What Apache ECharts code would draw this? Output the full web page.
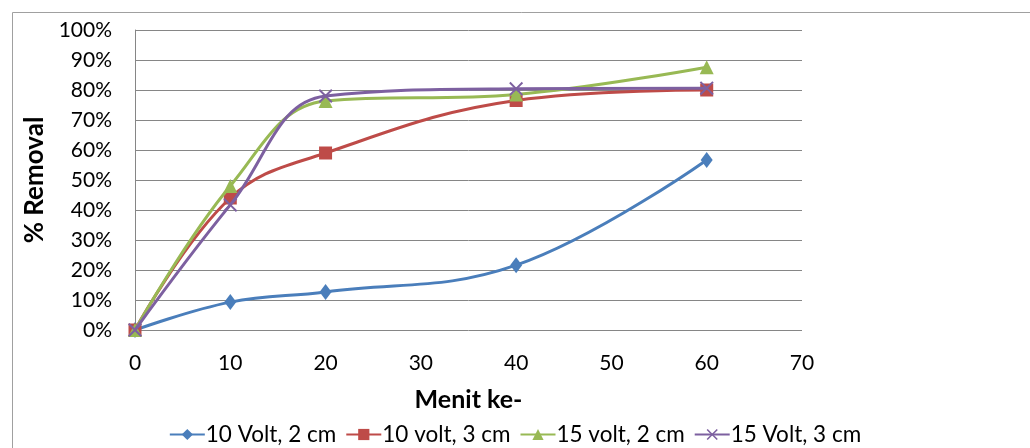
<!DOCTYPE html>
<html>
<head>
<meta charset="utf-8">
<script src="https://cdn.jsdelivr.net/npm/echarts@6/dist/echarts.min.js"></script>
<style>
html,body{margin:0;padding:0;background:#fff;}
#chart{width:1030px;height:448px;}
</style>
</head>
<body>
<div id="chart"></div>
<script>
const minutes = [0, 10, 20, 40, 60];
const seriesNames = ['10 Volt, 2 cm', '10 volt, 3 cm', '15 volt, 2 cm', '15 Volt, 3 cm'];
const v10_2cm = [0, 9.3, 12.7, 21.6, 56.7];
const v10_3cm = [0, 44, 59, 76.5, 80];
const v15_2cm = [0, 48, 76.3, 78.5, 87.6];
const v15_3cm = [0, 41.7, 78, 80.4, 80.6];
const yTicks = [0, 10, 20, 30, 40, 50, 60, 70, 80, 90, 100];

const colors = ['#4a7ebb', '#be4b48', '#98b954', '#7d60a0'];
const symbols = ['diamond', 'rect', 'triangle',
  'path://M0,1 L1,0 L5,4 L9,0 L10,1 L6,5 L10,9 L9,10 L5,6 L1,10 L0,9 L4,5 Z'];
const symbolSizes = [[12, 16], 13, 14, 14];
const allData = [v10_2cm, v10_3cm, v15_2cm, v15_3cm];
const font = 'Lato, "Noto Sans", sans-serif';

const chart = echarts.init(document.getElementById('chart'), null, {renderer: 'canvas'});
chart.setOption({
  animation: false,
  backgroundColor: '#fff',
  graphic: [{
    type: 'rect', left: 10, top: 10, silent: true,
    shape: {width: 1040, height: 460},
    style: {fill: 'none', stroke: '#a0a0a0', lineWidth: 1}
  }],
  grid: {left: 135, right: 228, top: 30, bottom: 118, containLabel: false},
  legend: {
    top: 418, left: 'center',
    itemWidth: 35, itemHeight: 14, itemGap: 9,
    textStyle: {fontFamily: font, fontSize: 22.5, color: '#000', padding: [0, 0, 0, -4]},
    data: seriesNames
  },
  xAxis: {
    type: 'value', min: 0, max: 70, interval: 10,
    name: 'Menit ke-', nameLocation: 'middle', nameGap: 57,
    nameTextStyle: {fontFamily: font, fontSize: 25, fontWeight: 'bold', color: '#000'},
    axisLine: {show: false},
    axisTick: {show: false},
    splitLine: {show: false},
    axisLabel: {fontFamily: font, fontSize: 21, color: '#000', margin: 23}
  },
  yAxis: {
    type: 'value', min: 0, max: 100, interval: 10,
    name: '% Removal', nameLocation: 'middle', nameGap: 86, nameRotate: 90,
    nameTextStyle: {fontFamily: font, fontSize: 26, fontWeight: 'bold', color: '#000'},
    axisLine: {show: true, lineStyle: {color: '#868686', width: 1}},
    axisTick: {show: false},
    splitLine: {show: true, lineStyle: {color: '#868686', width: 1}},
    axisLabel: {
      fontFamily: font, fontSize: 21, color: '#000', margin: 23,
      formatter: function (v) { return yTicks.indexOf(v) >= 0 ? v + '%' : ''; }
    }
  },
  series: allData.map(function (d, i) {
    return {
      name: seriesNames[i],
      type: 'line',
      smooth: 0.4,
      data: minutes.map(function (m, j) { return [m, d[j]]; }),
      symbol: symbols[i],
      symbolSize: symbolSizes[i],
      showAllSymbol: true,
      color: colors[i],
      lineStyle: {color: colors[i], width: 3},
      itemStyle: {color: colors[i]},
      z: 2 + i
    };
  })
});
</script>
</body>
</html>
